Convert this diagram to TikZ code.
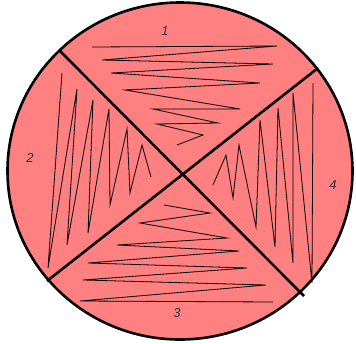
\documentclass[tikz,border=0pt]{standalone}
\usepackage{fontspec}
\setmainfont{Liberation Sans}
\definecolor{coral}{RGB}{255,128,128}
\definecolor{digit}{RGB}{50,45,60}

\begin{document}
\begin{tikzpicture}[x=1pt,y=-1pt,
        cut/.style={line width=2.6pt},
        zig/.style={line width=0.8pt, line join=miter},
        num/.style={font=\fontsize{13}{13}\selectfont\itshape, text=digit}]
        \useasboundingbox (0,0) rectangle (356,343);

        % disc
        \draw[line width=2.6pt, fill=coral] (180,171) ellipse [x radius=172.5, y radius=168.5];

        % sector 1
        \draw[zig] (92,47) -- (277,46) -- (102,60) -- (273,64) -- (111,73) -- (260,83)
            -- (125,90) -- (240,109) -- (153,109) -- (218,123) -- (157,124) -- (203,135) -- (177,145);
        % sector 2
        \draw[zig] (62,73) -- (48,268) -- (77,89) -- (67,245) -- (93,100) -- (88,233)
            -- (109,109) -- (110,205) -- (127,129) -- (130,193) -- (142,145) -- (151,177);
        % sector 3
        \draw[zig] (164,205) -- (210,213) -- (140,223) -- (227,238) -- (117,245) -- (239,251)
            -- (88,263) -- (247,268) -- (83,280) -- (266,285) -- (80,301) -- (273,302);
        % sector 4
        \draw[zig] (213,185) -- (226,155) -- (233,198) -- (239,145) -- (256,227) -- (260,120)
            -- (275,247) -- (278,108) -- (293,263) -- (293,93) -- (312,283) -- (313,83);

        % the two cuts
        \draw[cut] (59,50) -- (304,296);
        \draw[cut] (318,68) -- (47,281);

        \node[num] (one) at (165,31) {1};
        \node[num] (two) at (30,158) {2};
        \node[num] (three) at (177,313) {3};
        \node[num] (four) at (333,185) {4};
    \end{tikzpicture}
\end{document}
